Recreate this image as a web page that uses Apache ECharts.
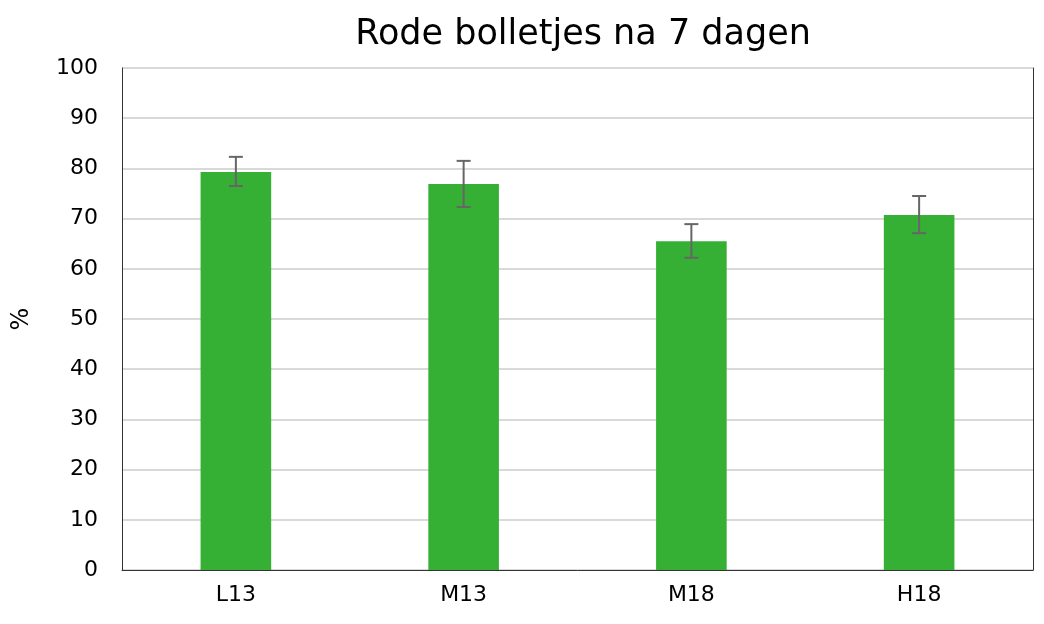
<!DOCTYPE html>
<html>
<head>
<meta charset="utf-8">
<script src="https://cdn.jsdelivr.net/npm/echarts@6/dist/echarts.min.js"></script>
<style>html,body{margin:0;padding:0;background:#fff}#chart{width:1044px;height:624px}</style>
</head>
<body>
<div id="chart"></div>
<script>
var categories = ['L13', 'M13', 'M18', 'H18'];
var values = [79.3, 76.9, 65.5, 70.7];
var errLow = [76.5, 72.3, 62.2, 67.1];
var errHigh = [82.3, 81.5, 68.9, 74.5];

var myChart = echarts.init(document.getElementById('chart'));
var font = 'DejaVu Sans';
var option = {
	animation: false,
	title: {
		text: 'Rode bolletjes na 7 dagen',
		left: 578,
		textAlign: 'center',
		top: 12,
		textStyle: { fontFamily: font, fontSize: 35, fontWeight: 'normal', color: '#000' }
	},
	grid: { left: 122, right: 11, top: 68, bottom: 54 },
	xAxis: {
		type: 'category',
		data: categories,
		axisLine: { lineStyle: { color: '#333' } },
		axisTick: { show: false },
		axisLabel: { fontFamily: font, fontSize: 22, color: '#000', margin: 14 }
	},
	yAxis: [{
		type: 'value',
		min: 0, max: 100, interval: 10,
		name: '%',
		nameLocation: 'middle',
		nameGap: 88,
		nameTextStyle: { fontFamily: font, fontSize: 24, color: '#000' },
		axisLine: { show: true, lineStyle: { color: '#333' } },
		axisLabel: { fontFamily: font, fontSize: 22, color: '#000', margin: 24 },
		splitLine: { lineStyle: { color: '#d9d9d9', width: 2 } }
	}, {
		type: 'value',
		min: 0, max: 100, interval: 10,
		position: 'right',
		axisLine: { show: true, lineStyle: { color: '#333' } },
		axisLabel: { show: false },
		axisTick: { show: false },
		splitLine: { show: false }
	}],
	series: [{
		type: 'bar',
		data: values,
		barWidth: '31%',
		itemStyle: { color: '#35b035' }
	}, {
		type: 'custom',
		data: categories.map(function (c, i) { return [i, errLow[i], errHigh[i]]; }),
		z: 10,
		renderItem: function (params, api) {
			var lo = api.coord([api.value(0), api.value(1)]);
			var hi = api.coord([api.value(0), api.value(2)]);
			var w = 7;
			var st = { stroke: '#666', lineWidth: 2 };
			return {
				type: 'group',
				children: [
					{ type: 'line', shape: { x1: hi[0], y1: hi[1], x2: lo[0], y2: lo[1] }, style: st },
					{ type: 'line', shape: { x1: hi[0] - w, y1: hi[1], x2: hi[0] + w, y2: hi[1] }, style: st },
					{ type: 'line', shape: { x1: lo[0] - w, y1: lo[1], x2: lo[0] + w, y2: lo[1] }, style: st }
				]
			};
		}
	}]
};
myChart.setOption(option);
</script>
</body>
</html>
